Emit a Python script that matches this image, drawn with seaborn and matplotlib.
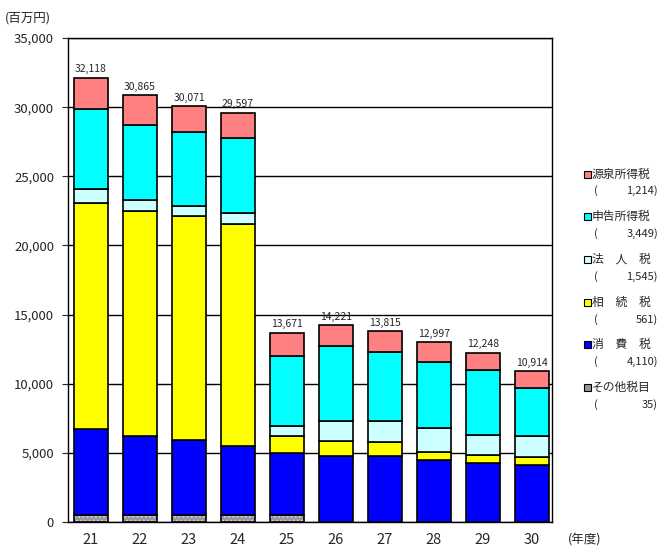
import numpy as np
import pandas as pd
import matplotlib
matplotlib.use("Agg")
import matplotlib.pyplot as plt
from matplotlib.patches import Rectangle
import seaborn as sns

# 年度 (平成)
years = [21, 22, 23, 24, 25, 26, 27, 28, 29, 30]

# 税目別 (百万円)
gensen = [2258, 2165, 1871, 1832, 1671, 1496, 1525, 1427, 1258, 1214]
shinkoku = [5780, 5420, 5350, 5425, 5060, 5445, 5010, 4795, 4720, 3449]
hojin = [1010, 790, 725, 790, 720, 1445, 1520, 1735, 1450, 1545]
sozoku = [16340, 16270, 16195, 16055, 1230, 1085, 1010, 580, 530, 561]
shohi = [6230, 5720, 5430, 4995, 4490, 4715, 4715, 4425, 4255, 4110]
sonota = [500, 500, 500, 500, 500, 35, 35, 35, 35, 35]

tax_names = ["源泉所得税", "申告所得税", "法　人　税", "相　続　税", "消　費　税", "その他税目"]
legend_values = ["1,214", "3,449", "1,545", "561", "4,110", "35"]
colors = ["#FF8080", "#00FFFF", "#CCFFFF", "#FFFF00", "#0000FF", "#9696A0"]

series = [gensen, shinkoku, hojin, sozoku, shohi, sonota]
df = pd.DataFrame({
    "year": np.tile(years, len(tax_names)),
    "tax": np.repeat(tax_names, len(years)),
    "value": np.concatenate(series),
})
totals = df.groupby("year")["value"].sum()

sns.set_style("white")
plt.rcParams["font.family"] = ["Noto Sans CJK JP", "DejaVu Sans"]

W, H = 667, 555
fig = plt.figure(figsize=(W / 100, H / 100), dpi=100)
ax = fig.add_axes([68 / W, 1 - 522 / H, (552 - 68) / W, (522 - 38) / H])

sns.histplot(data=df, x="year", weights="value", hue="tax", hue_order=tax_names,
             multiple="stack", discrete=True, shrink=0.69, palette=colors,
             edgecolor="black", linewidth=1.2, alpha=1, legend=False, ax=ax)

# dotted texture on the "other" segment (light dots, black outline kept)
for p in ax.patches:
    fc = matplotlib.colors.to_hex(p.get_facecolor())
    if fc.lower() == "#9696a0":
        p.set_hatch("....")
        p._hatch_color = matplotlib.colors.to_rgba("#D0D0D8")

for yr, tot in totals.items():
    ax.text(yr, tot + 250, f"{tot:,}", ha="center", va="bottom", fontsize=7.5)

ax.set_xlim(20.53, 30.41)
ax.set_ylim(0, 35000)
ax.set_yticks(range(0, 35001, 5000))
ax.set_yticklabels([f"{v:,}" for v in range(0, 35001, 5000)], fontsize=9.5)
ax.set_xticks(years)
ax.set_xticklabels([str(y) for y in years], fontsize=10.5)
ax.tick_params(axis="x", length=0, pad=8)
ax.tick_params(axis="y", length=4, pad=6, direction="out", left=True)
ax.set_xlabel("")
ax.set_ylabel("")
ax.set_axisbelow(True)
ax.yaxis.grid(True, color="black", linewidth=1, linestyle="-")
for s in ax.spines.values():
    s.set_color("black")
    s.set_linewidth(1)

fig.text(5 / W, 1 - 18 / H, "(百万円)", fontsize=9, va="center", ha="left")
fig.text(568 / W, 1 - 540 / H, "(年度)", fontsize=9, va="center", ha="left")

# legend on the right
for i, (name, val, col) in enumerate(zip(tax_names, legend_values, colors)):
    yc = 174 + i * 42.7
    fig.patches.append(Rectangle((584 / W, 1 - (yc + 3.5) / H), 7 / W, 7 / H,
                                 transform=fig.transFigure, facecolor=col,
                                 edgecolor="black", linewidth=0.8))
    fig.text(592 / W, 1 - yc / H, name, fontsize=8.5, va="center", ha="left")
    fig.text(594 / W, 1 - (yc + 17) / H, "(", fontsize=8, va="center", ha="left")
    fig.text(658 / W, 1 - (yc + 17) / H, f"{val})", fontsize=8, va="center", ha="right")

fig.savefig("out.png", dpi=100)
